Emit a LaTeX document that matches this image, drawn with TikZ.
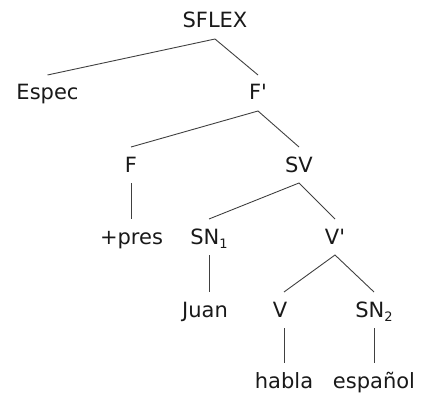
\documentclass[tikz,border=0pt]{standalone}
\usepackage{fontspec}
\setmainfont{DejaVu Sans}[Ligatures=TeXOff]
\newcommand{\subidx}[1]{\raisebox{-4pt}{\fontsize{13}{13}\selectfont #1}}
\begin{document}
\begin{tikzpicture}[x=1pt,y=-1pt,
  lbl/.style={anchor=base, inner xsep=0pt, inner ysep=0pt, outer xsep=0pt, outer ysep=10pt,
    text height=15pt, text depth=1pt, font=\fontsize{21}{21}\selectfont, text=black!90},
  edge/.style={draw=black!75, line width=0.9pt}]
\useasboundingbox (0,0) rectangle (421,396);

% labels, placed on their baselines
\node[lbl] (sflex) at (215,28) {SFLEX};
\node[lbl] (espec) at (47.5,100) {Espec};
\node[lbl] (fbar)  at (258,100) {F'};
\node[lbl] (f)     at (131,172) {F};
\node[lbl] (sv)    at (299,172) {SV};
\node[lbl] (pres)  at (131.5,244) {+pres};
\node[lbl] (sn1)   at (209,244) {SN\subidx{1}};
\node[lbl] (vbar)  at (335,244) {V'};
\node[lbl] (juan)  at (205,317) {Juan};
\node[lbl] (v)     at (280,317) {V};
\node[lbl] (sn2)   at (374,317) {SN\subidx{2}};
\node[lbl] (habla) at (284,388) {habla};
\node[lbl] (espa)  at (374,388) {español};

% branches
\draw[edge] (espec.north) -- (sflex.south) -- (fbar.north);
\draw[edge] (f.north) -- (fbar.south) -- (sv.north);
\draw[edge] (f.south) -- (pres.north -| f.south);
\draw[edge] (sn1.north) -- (sv.south) -- (vbar.north);
\draw[edge] (sn1.south) -- (sn1.south |- juan.north);
\draw[edge] (habla.north |- v.north) -- (vbar.south) -- (sn2.north);
\draw[edge] (habla.north |- v.south) -- (habla.north);
\draw[edge] (sn2.south) -- (espa.north);
\end{tikzpicture}
\end{document}
